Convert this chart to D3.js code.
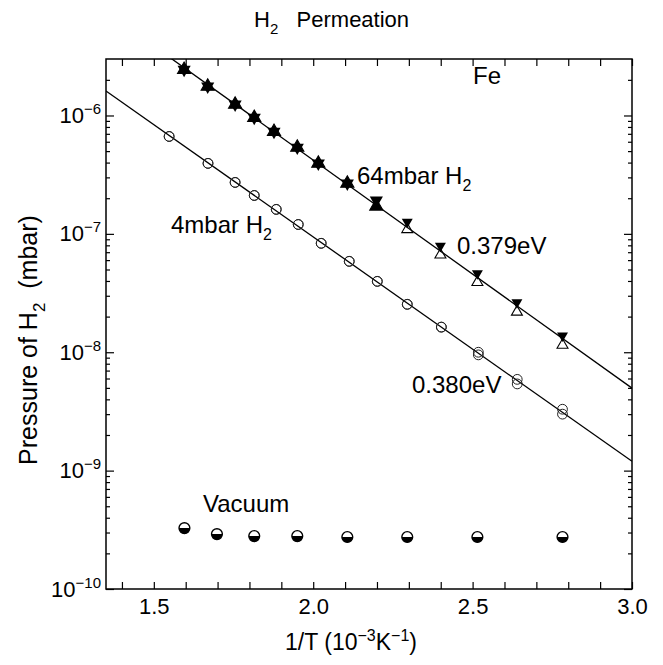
<!DOCTYPE html>
<html lang="en">
<head>
<meta charset="UTF-8">
<title>H2 Permeation</title>
<script src="https://cdn.jsdelivr.net/npm/d3@7"></script>
<style>
  body { margin: 0; background: #fff; }
  text { font-family: "Liberation Sans", Arial, Helvetica, sans-serif; fill: #000; }
  .tick line { stroke: #000; stroke-width: 1.2px; }
  .tick text { font-size: 22px; }
</style>
</head>
<body>
<script>
// 1/T in 10^-3 K^-1, pressure in mbar

// 64 mbar H2 upstream: filled down triangles + up triangles (filled for the first points, open later)
var invT64  = [1.595, 1.669, 1.755, 1.815, 1.877, 1.950, 2.016, 2.107, 2.198, 2.295, 2.399, 2.515, 2.639, 2.782];
var p64Down = [2.44e-6, 1.76e-6, 1.24e-6, 9.6e-7, 7.3e-7, 5.37e-7, 3.94e-7, 2.67e-7, 1.92e-7, 1.26e-7, 7.9e-8, 4.64e-8, 2.63e-8, 1.38e-8];
var p64Up   = [2.44e-6, 1.76e-6, 1.24e-6, 9.6e-7, 7.3e-7, 5.37e-7, 3.94e-7, 2.67e-7, 1.71e-7, 1.09e-7, 6.65e-8, 3.90e-8, 2.19e-8, 1.15e-8];
var upOpenFrom = 9;

// 4 mbar H2 upstream: open circles (two runs)
var invT4 = [1.548, 1.670, 1.755, 1.815, 1.884, 1.953, 2.025, 2.113, 2.201, 2.295, 2.402, 2.518, 2.640, 2.782];
var p4a   = [6.65e-7, 3.94e-7, 2.72e-7, 2.11e-7, 1.61e-7, 1.20e-7, 8.32e-8, 5.86e-8, 3.97e-8, 2.54e-8, 1.63e-8, 1.0e-8, 5.9e-9, 3.3e-9];
var p4b   = [6.65e-7, 3.94e-7, 2.72e-7, 2.11e-7, 1.61e-7, 1.20e-7, 8.32e-8, 5.86e-8, 3.97e-8, 2.54e-8, 1.63e-8, 9.5e-9, 5.4e-9, 3.0e-9];

// vacuum background
var invTVac = [1.596, 1.698, 1.815, 1.950, 2.107, 2.295, 2.515, 2.782];
var pVac    = [3.27e-10, 2.91e-10, 2.80e-10, 2.80e-10, 2.75e-10, 2.75e-10, 2.75e-10, 2.75e-10];

// axis ticks
var xTickLabels = [1.5, 2.0, 2.5, 3.0];
var yDecades = [1e-10, 1e-9, 1e-8, 1e-7, 1e-6];

var width = 663, height = 665;
var box = {left: 106, right: 632, top: 59, bottom: 589};

var svg = d3.select("body").append("svg")
  .attr("width", width)
  .attr("height", height)
  .style("background", "#fff");

var x = d3.scaleLinear().domain([1.35, 3.0]).range([box.left, box.right]);
var y = d3.scaleLog().domain([1e-10, 3e-6]).range([box.bottom, box.top]);

// ticks every 0.1 and log minor ticks
var xMinor = d3.range(14, 31).map(function(d) { return d / 10; });
var yMinor = [];
yDecades.forEach(function(dec) {
  for (var k = 2; k <= 9; k++) {
    if (dec * k < 3e-6) yMinor.push(dec * k);
  }
});

function noDomain(g) { g.select(".domain").remove(); }

// bottom / top
svg.append("g").attr("transform", "translate(0," + box.bottom + ")")
  .call(d3.axisBottom(x).tickValues(xMinor).tickSize(-7).tickFormat(""))
  .call(noDomain);
svg.append("g").attr("transform", "translate(0," + box.top + ")")
  .call(d3.axisTop(x).tickValues(xMinor).tickSize(-7).tickFormat(""))
  .call(noDomain);
svg.append("g").attr("transform", "translate(0," + box.bottom + ")")
  .call(d3.axisBottom(x).tickValues(xTickLabels).tickSize(0).tickPadding(9).tickFormat(d3.format(".1f")))
  .call(noDomain);

// left / right
svg.append("g").attr("transform", "translate(" + box.left + ",0)")
  .call(d3.axisLeft(y).tickValues(yMinor).tickSize(-4).tickFormat(""))
  .call(noDomain);
svg.append("g").attr("transform", "translate(" + box.right + ",0)")
  .call(d3.axisRight(y).tickValues(yMinor).tickSize(-4).tickFormat(""))
  .call(noDomain);
svg.append("g").attr("transform", "translate(" + box.right + ",0)")
  .call(d3.axisRight(y).tickValues(yDecades).tickSize(-8).tickFormat(""))
  .call(noDomain);
var yAxis = svg.append("g").attr("transform", "translate(" + box.left + ",0)")
  .call(d3.axisLeft(y).tickValues(yDecades).tickSize(-8).tickPadding(5))
  .call(noDomain);

yAxis.selectAll(".tick text").each(function(d) {
  var t = d3.select(this).text("");
  t.append("tspan").text("10");
  t.append("tspan").attr("dy", -9).style("font-size", "15px")
    .text("\u2212" + Math.round(-Math.log10(d)));
});

// frame
svg.append("rect")
  .attr("x", box.left).attr("y", box.top)
  .attr("width", box.right - box.left).attr("height", box.bottom - box.top)
  .attr("fill", "none").attr("stroke", "#000").attr("stroke-width", 1.5);

// clip for fit lines
svg.append("clipPath").attr("id", "plot")
  .append("rect").attr("x", box.left).attr("y", box.top)
  .attr("width", box.right - box.left).attr("height", box.bottom - box.top);

// least squares in log10(p) vs 1/T
function fit(xs, ps) {
  var ly = ps.map(Math.log10);
  var mx = d3.mean(xs), my = d3.mean(ly);
  var b = d3.sum(xs, function(v, i) { return (v - mx) * (ly[i] - my); }) /
          d3.sum(xs, function(v) { return (v - mx) * (v - mx); });
  return function(t) { return Math.pow(10, my + b * (t - mx)); };
}

var p64Mid = p64Down.map(function(p, i) { return Math.sqrt(p * p64Up[i]); });
var p4Mid = p4a.map(function(p, i) { return Math.sqrt(p * p4b[i]); });
var fits = [fit(invT64, p64Mid), fit(invT4, p4Mid)];

var line = d3.line()
  .x(function(d) { return x(d[0]); })
  .y(function(d) { return y(d[1]); });

svg.append("g").attr("clip-path", "url(#plot)")
  .selectAll("path")
  .data(fits)
  .enter().append("path")
  .attr("d", function(f) {
    return line(x.domain().map(function(t) { return [t, f(t)]; }));
  })
  .attr("fill", "none")
  .attr("stroke", "#000")
  .attr("stroke-width", 1.3);

// 4 mbar circles
[p4a, p4b].forEach(function(ps) {
  svg.append("g").selectAll("circle")
    .data(ps)
    .enter().append("circle")
    .attr("cx", function(d, i) { return x(invT4[i]); })
    .attr("cy", function(d) { return y(d); })
    .attr("r", 4.9)
    .attr("fill", "none")
    .attr("stroke", "#222")
    .attr("stroke-width", 1);
});

// 64 mbar triangles (stars where they overlap)
var tri = d3.symbol().type(d3.symbolTriangle);
svg.append("g").selectAll("path")
  .data(p64Down)
  .enter().append("path")
  .attr("d", function(d, i) { return tri.size(i < upOpenFrom ? 75 : 52)(); })
  .attr("transform", function(d, i) { return "translate(" + x(invT64[i]) + "," + y(d) + ") rotate(180)"; })
  .attr("fill", "#000");

svg.append("g").selectAll("path")
  .data(p64Up)
  .enter().append("path")
  .attr("d", function(d, i) { return tri.size(i < upOpenFrom ? 75 : 52)(); })
  .attr("transform", function(d, i) { return "translate(" + x(invT64[i]) + "," + y(d) + ")"; })
  .attr("fill", function(d, i) { return i < upOpenFrom ? "#000" : "none"; })
  .attr("stroke", "#000")
  .attr("stroke-width", 1.1);

// vacuum: half filled balls
var half = d3.arc().innerRadius(0).outerRadius(5.4).startAngle(Math.PI / 2).endAngle(Math.PI * 1.5);
var vac = svg.append("g").selectAll("g")
  .data(pVac)
  .enter().append("g")
  .attr("transform", function(d, i) { return "translate(" + x(invTVac[i]) + "," + y(d) + ")"; });
vac.append("circle").attr("r", 5.4).attr("fill", "#fff").attr("stroke", "#000").attr("stroke-width", 1.4);
vac.append("path").attr("d", half()).attr("fill", "#000");

// text helper: parts = [text, "sub"|"sup"|null]
function label(px, py, size, parts, g) {
  var t = (g || svg).append("text")
    .attr("x", px).attr("y", py)
    .style("font-size", size + "px")
    .style("white-space", "pre");
  var shift = 0;
  parts.forEach(function(p) {
    var s = t.append("tspan").text(p[0]);
    var want = p[1] === "sub" ? size * 0.3 : p[1] === "sup" ? -size * 0.4 : 0;
    if (want - shift !== 0) s.attr("dy", want - shift);
    shift = want;
    if (p[1]) s.style("font-size", Math.round(size * 0.68) + "px");
  });
  return t;
}

label(254, 27, 22, [["H"], ["2", "sub"], ["   Permeation"]]);
label(473, 84, 24, [["Fe"]]);
label(357, 184, 24, [["64mbar H"], ["2", "sub"]]);
label(171, 233, 24, [["4mbar H"], ["2", "sub"]]);
label(457, 254, 24, [["0.379eV"]]);
label(412, 393, 24, [["0.380eV"]]);
label(203, 512, 24, [["Vacuum"]]);

// axis titles
label(351, 650, 23, [["1/T (10"], ["\u22123", "sup"], ["K"], ["\u22121", "sup"], [")"]])
  .attr("text-anchor", "middle");

var yt = svg.append("g").attr("transform", "translate(37,340) rotate(-90)");
label(0, 0, 25, [["Pressure of H"], ["2", "sub"], ["  (mbar)"]], yt)
  .attr("text-anchor", "middle");
</script>
</body>
</html>
